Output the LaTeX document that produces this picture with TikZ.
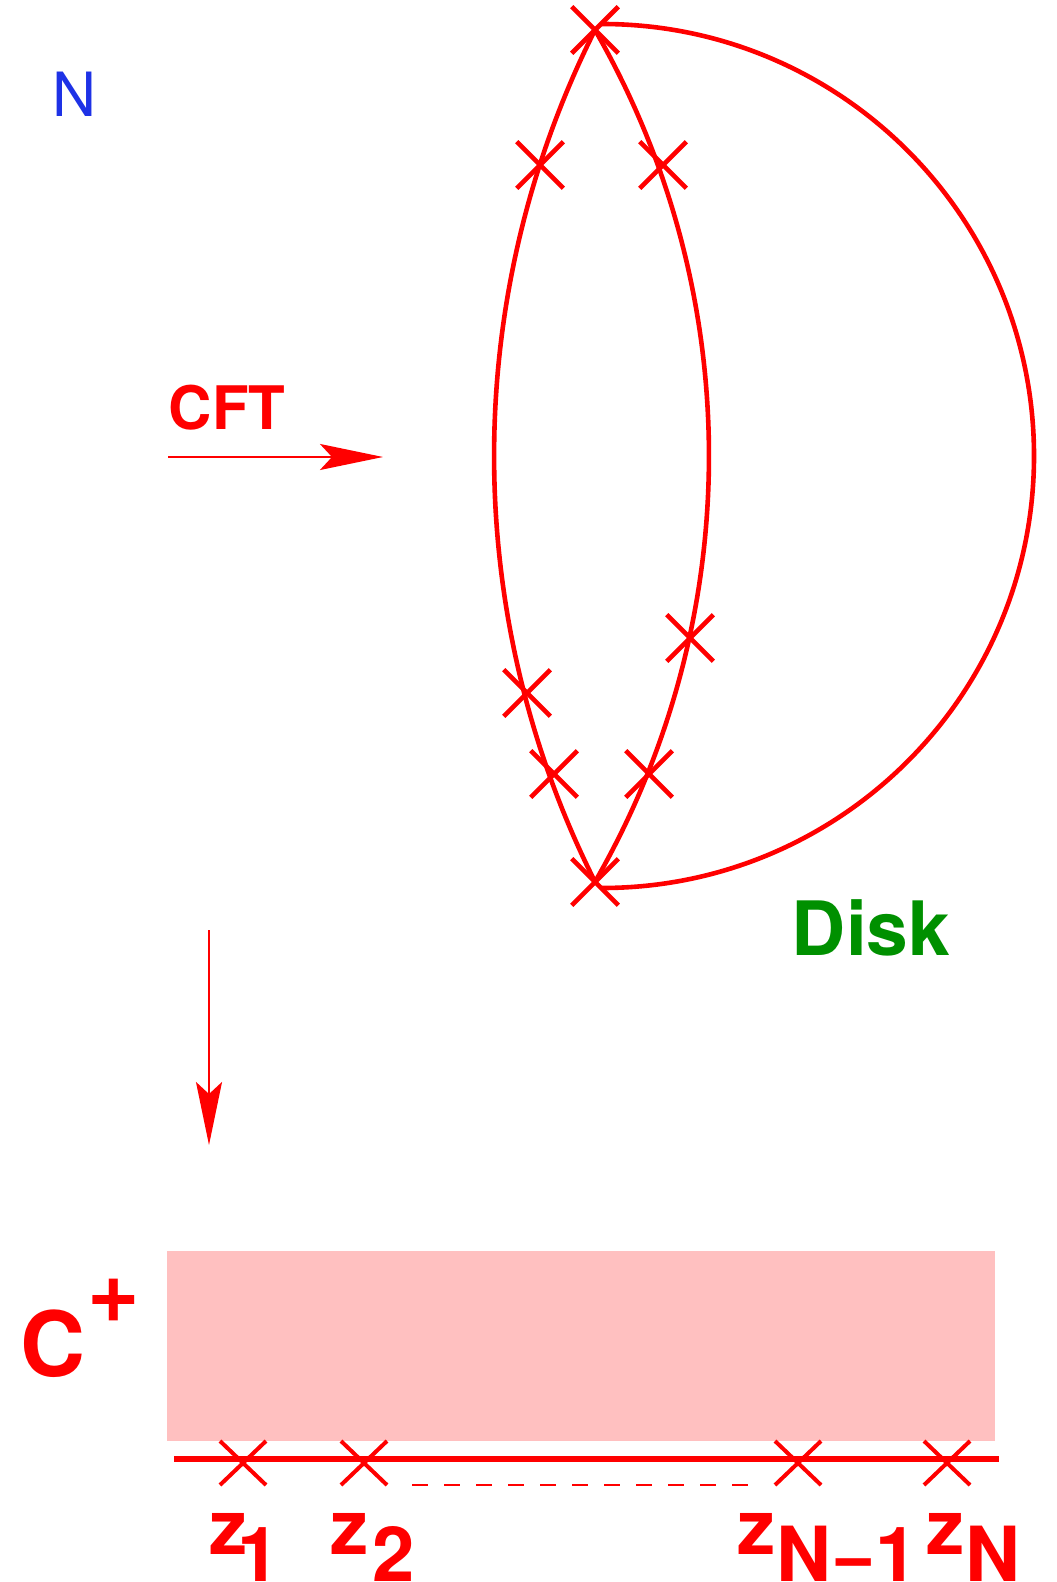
\documentclass[tikz,border=0pt]{standalone}
\usepackage{fontspec}
\setmainfont{TeX Gyre Heros}
\usetikzlibrary{arrows.meta,shapes.misc}
\definecolor{fred}{rgb}{1,0,0}
\definecolor{fblue}{RGB}{30,50,230}
\definecolor{fgreen}{RGB}{0,144,0}
\definecolor{fpink}{RGB}{255,192,192}
\begin{document}
\begin{tikzpicture}[x=0.5pt,y=-0.5pt,
  crossmark/.style={draw=fred,cross out,line width=2.3pt,inner sep=0pt,minimum width=21pt,minimum height=21pt},
  smallcross/.style={crossmark,line width=2pt,minimum width=21pt,minimum height=20pt},
  lbl/.style={inner sep=0pt,anchor=base west,text=fred,font=\bfseries\fontsize{38pt}{38pt}\selectfont},
  curve/.style={draw=fred,line width=2.3pt},
  flow/.style={draw=fred,line width=1.1pt,-{Stealth[length=31.5pt,width=13pt,inset=6pt]}}
]
\useasboundingbox (0,0) rectangle (1056,1582);

% disk boundary
\coordinate (top) at (595,30);
\coordinate (bot) at (595,882);
\coordinate (arcstart) at (602,24);
\draw[curve] (arcstart) arc[start angle=-90,end angle=90,radius=432];
\draw[curve] (top) arc[start angle=206.67,end angle=153.33,radius=948.9];
\draw[curve] (top) arc[start angle=-29.96,end angle=29.96,radius=852.9];

% insertion points on the disk
\node[crossmark] (p0) at (top) {};
\node[crossmark] (p1) at (540,165) {};
\node[crossmark] (p2) at (663,165) {};
\node[crossmark] (p3) at (690,638) {};
\node[crossmark] (p4) at (527,693) {};
\node[crossmark] (p5) at (554,774) {};
\node[crossmark] (p6) at (649,774) {};
\node[crossmark] (p7) at (bot) {};

% labels
\node[inner sep=0pt,anchor=base west,text=fblue,font=\fontsize{30.5pt}{30.5pt}\selectfont] (nlab) at (52.4,117) {N};
\node[lbl,font=\bfseries\fontsize{30pt}{30pt}\selectfont] (cft) at (168.4,430) {CFT};
\node[lbl,text=fgreen,font=\bfseries\fontsize{37.5pt}{37.5pt}\selectfont] (disk) at (791.5,955) {Disk};

% arrows
\coordinate (a1s) at (168,457);
\coordinate (a1e) at (383,457);
\draw[flow] (a1s) -- (a1e);
\coordinate (a2s) at (209,930);
\coordinate (a2e) at (209,1145);
\draw[flow] (a2s) -- (a2e);

% upper half plane
\fill[fpink] (167,1251) rectangle (995,1441);
\node[lbl,font=\bfseries\fontsize{45pt}{45pt}\selectfont] (cl) at (20,1376) {C};
\node[lbl,font=\bfseries\fontsize{45pt}{45pt}\selectfont] (cplus) at (87.4,1322) {+};

\coordinate (ls) at (174,1459);
\coordinate (le) at (999,1459);
\draw[fred,line width=2.6pt] (ls) -- (le);
\coordinate (ds) at (412,1485);
\coordinate (de) at (751,1485);
\draw[fred,line width=1.4pt,dash pattern=on 7.75pt off 8.25pt] (ds) -- (de);

\node[smallcross] (x1) at (243,1463) {};
\node[smallcross] (x2) at (364,1463) {};
\node[smallcross] (x3) at (798,1463) {};
\node[smallcross] (x4) at (947,1463) {};

\node[lbl] (z1) at (209.5,1554) {z};
\node[lbl] (z1s) at (236.8,1581) {1};
\node[lbl] (z2) at (330.5,1554) {z};
\node[lbl] (z2s) at (372,1581) {2};
\node[lbl] (z3) at (737.5,1554) {z};
\node[lbl] (z3s) at (775.8,1581) {N\symbol{"2212}1};
\node[lbl] (z4) at (926.5,1554) {z};
\node[lbl] (z4s) at (964.8,1581) {N};
\end{tikzpicture}
\end{document}
